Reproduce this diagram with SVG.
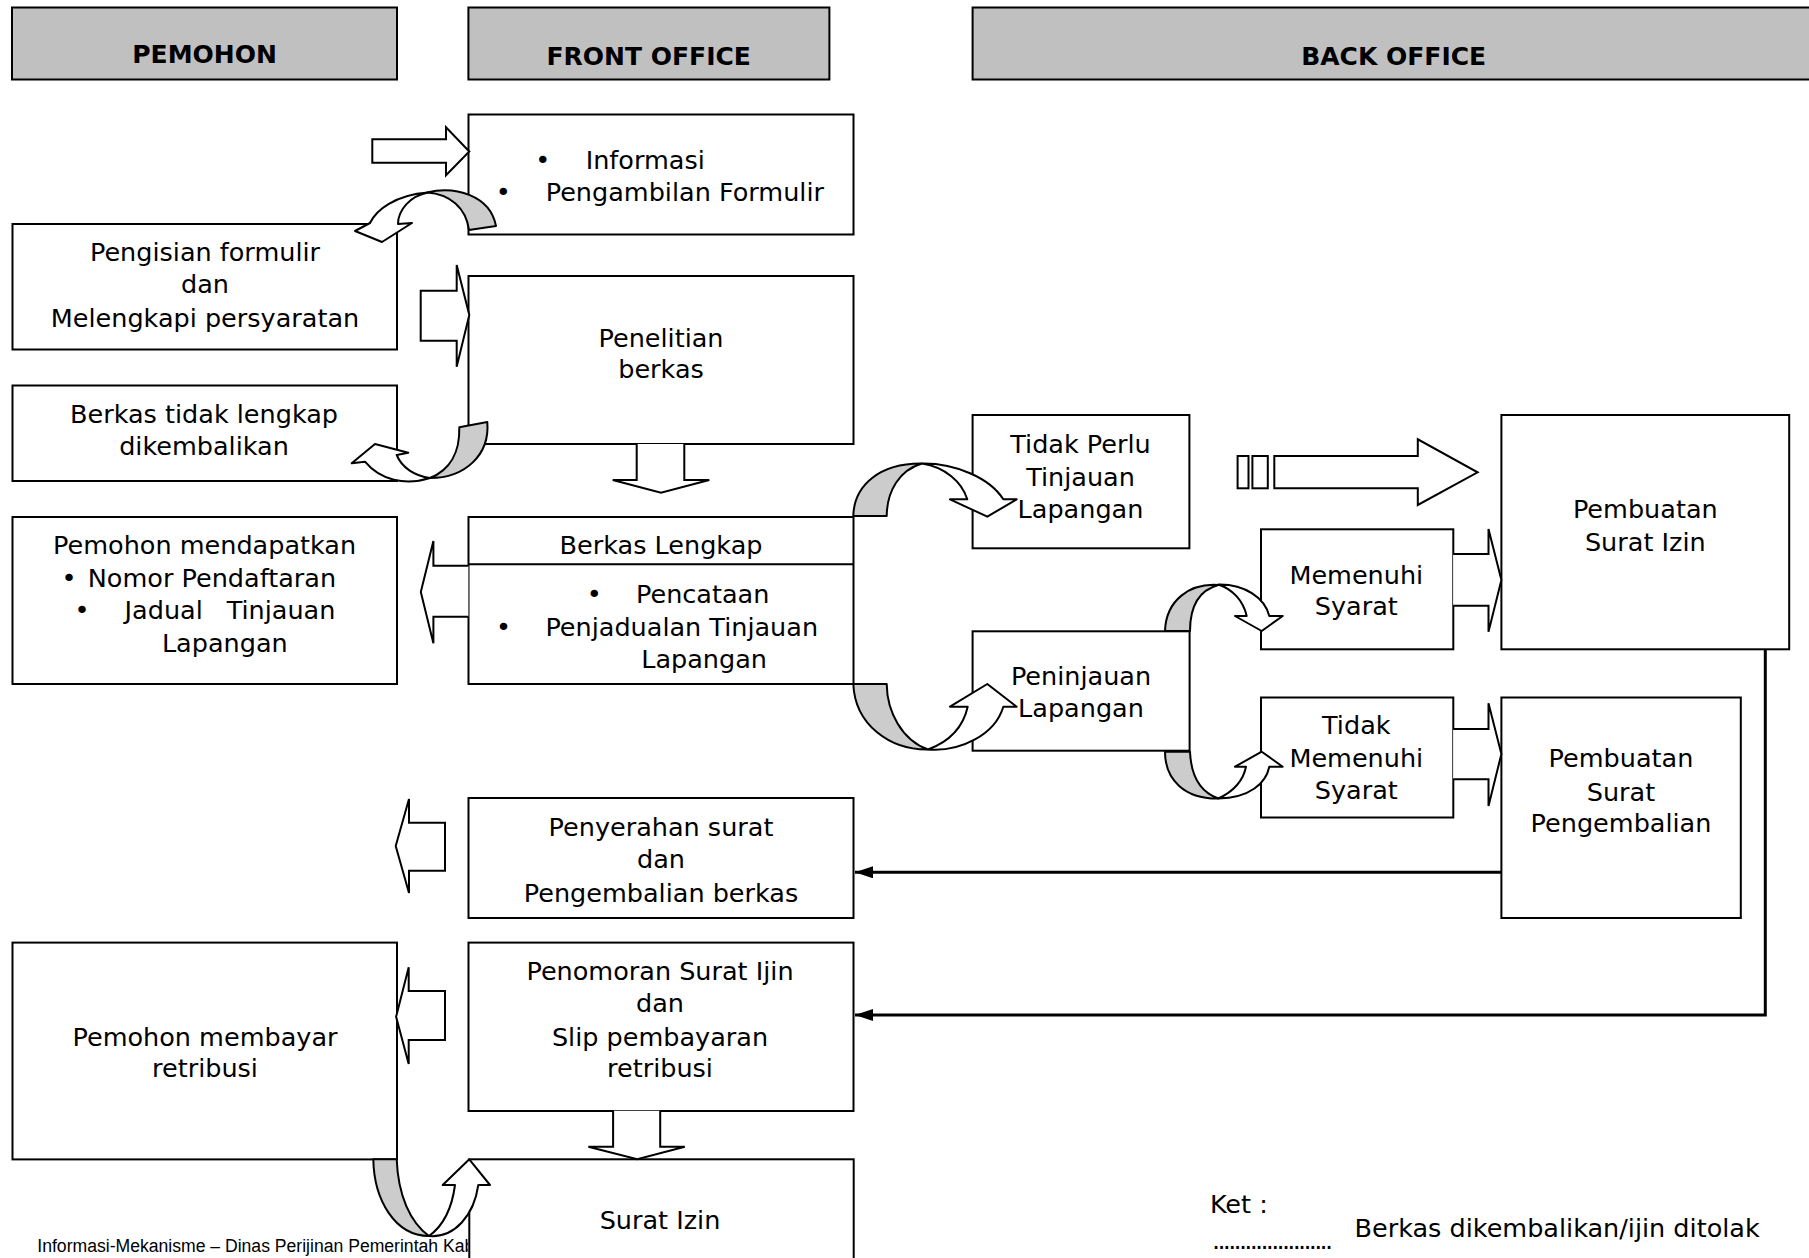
<svg xmlns="http://www.w3.org/2000/svg" width="1809" height="1258" viewBox="0 0 1809 1258">
<defs>
<style>
.hdr{fill:#c0c0c0;stroke:#000;stroke-width:2}
.box{fill:#fff;stroke:#000;stroke-width:2}
.ht{font-family:"DejaVu Sans",sans-serif;font-weight:bold;font-size:25px;fill:#000;text-anchor:middle}
.t{font-family:"DejaVu Sans",sans-serif;font-size:25.5px;fill:#000}
.c{text-anchor:middle}
.blk{fill:#fff;stroke:#000;stroke-width:2;stroke-linejoin:miter}
.gry{fill:#cccccc;stroke:#000;stroke-width:2;stroke-linejoin:round}
.wht{fill:#fff;stroke:#000;stroke-width:2;stroke-linejoin:round}
.ln{fill:none;stroke:#000;stroke-width:3}
.foot{font-family:"Liberation Sans",Arial,sans-serif;font-size:18px;fill:#000}
</style>
<marker id="ah" viewBox="0 0 10 10" refX="10" refY="5" markerWidth="6" markerHeight="4" orient="auto" preserveAspectRatio="none">
<path d="M0,0 L10,5 L0,10 Z" fill="#000"/>
</marker>
<clipPath id="footclip"><rect x="0" y="1150" width="468.3" height="120"/></clipPath>
</defs>
<rect width="1809" height="1258" fill="#fff"/>

<g id="hdr-pemohon"><rect class="hdr" x="12" y="7.5" width="385" height="72"/><text class="ht" x="204.6" y="63.3">PEMOHON</text></g>
<g id="hdr-front"><rect class="hdr" x="468.4" y="7.5" width="361" height="72"/><text class="ht" x="648.7" y="65">FRONT OFFICE</text></g>
<g id="hdr-back"><rect class="hdr" x="972.6" y="7.5" width="845" height="72"/><text class="ht" x="1393.7" y="65">BACK OFFICE</text></g>

<g id="informasi"><rect class="box" x="468.5" y="114.5" width="385" height="120"/>
<text class="t c" x="542.7" y="169.3">•</text><text class="t" x="585.7" y="169.3">Informasi</text>
<text class="t c" x="503.3" y="201">•</text><text class="t" x="545.7" y="201">Pengambilan Formulir</text></g>

<g id="pengisian"><rect class="box" x="12.5" y="224" width="384.5" height="125.5"/>
<text class="t c" x="205" y="261">Pengisian formulir</text><text class="t c" x="205" y="293.3">dan</text><text class="t c" x="205" y="326.7">Melengkapi persyaratan</text></g>

<g id="penelitian"><rect class="box" x="468.5" y="276" width="385" height="168"/>
<text class="t c" x="661" y="346.7">Penelitian</text><text class="t c" x="661" y="378.3">berkas</text></g>

<g id="tidak-lengkap"><rect class="box" x="12.5" y="385.5" width="384.5" height="95.5"/>
<text class="t c" x="204" y="422.7">Berkas tidak lengkap</text><text class="t c" x="204" y="455">dikembalikan</text></g>

<g id="berkas-lengkap"><rect class="box" x="468.5" y="517" width="385" height="167"/>
<line x1="468.5" y1="564.2" x2="853.5" y2="564.2" stroke="#000" stroke-width="2"/>
<text class="t c" x="661" y="554">Berkas Lengkap</text>
<text class="t c" x="594.2" y="603.3">•</text><text class="t" x="636" y="603.3">Pencataan</text>
<text class="t c" x="503.4" y="636">•</text><text class="t" x="545.4" y="636">Penjadualan Tinjauan</text>
<text class="t" x="641.2" y="668.3">Lapangan</text></g>

<g id="mendapatkan"><rect class="box" x="12.5" y="517" width="384.5" height="167"/>
<text class="t c" x="204.6" y="554">Pemohon mendapatkan</text>
<text class="t c" x="68.9" y="586.7">•</text><text class="t" x="87.8" y="586.7">Nomor Pendaftaran</text>
<text class="t c" x="82.1" y="619.3">•</text><text class="t" y="619.3"><tspan x="124.6">Jadual</tspan><tspan x="226.7">Tinjauan</tspan></text>
<text class="t" x="161.9" y="651.7">Lapangan</text></g>

<g id="tidak-perlu"><rect class="box" x="972.6" y="415" width="216.8" height="133.3"/>
<text class="t c" x="1080.5" y="452.7">Tidak Perlu</text><text class="t c" x="1080.5" y="486">Tinjauan</text><text class="t c" x="1080.5" y="518.3">Lapangan</text></g>

<g id="peninjauan"><rect class="box" x="972.6" y="631.3" width="217" height="119.4"/>
<text class="t c" x="1081" y="685">Peninjauan</text><text class="t c" x="1081" y="717.3">Lapangan</text></g>

<g id="memenuhi"><rect class="box" x="1261" y="529.3" width="192.3" height="120"/>
<text class="t c" x="1356.3" y="584">Memenuhi</text><text class="t c" x="1356.3" y="615">Syarat</text></g>

<g id="tidak-memenuhi"><rect class="box" x="1261" y="697.5" width="192.3" height="120"/>
<text class="t c" x="1356.3" y="734">Tidak</text><text class="t c" x="1356.3" y="767.3">Memenuhi</text><text class="t c" x="1356.3" y="799.3">Syarat</text></g>

<g id="pembuatan-izin"><rect class="box" x="1501.4" y="415" width="287.8" height="234.3"/>
<text class="t c" x="1645.3" y="518.3">Pembuatan</text><text class="t c" x="1645.3" y="551">Surat Izin</text></g>

<g id="pembuatan-pengembalian"><rect class="box" x="1501.4" y="697.5" width="239.4" height="220.5"/>
<text class="t c" x="1621" y="766.7">Pembuatan</text><text class="t c" x="1621" y="800.7">Surat</text><text class="t c" x="1621" y="832.3">Pengembalian</text></g>

<g id="penyerahan"><rect class="box" x="468.5" y="798" width="385" height="120"/>
<text class="t c" x="661" y="836">Penyerahan surat</text><text class="t c" x="661" y="868.3">dan</text><text class="t c" x="661" y="901.7">Pengembalian berkas</text></g>

<g id="penomoran"><rect class="box" x="468.5" y="942.6" width="385" height="168.4"/>
<text class="t c" x="660" y="980">Penomoran Surat Ijin</text><text class="t c" x="660" y="1012.3">dan</text><text class="t c" x="660" y="1045.7">Slip pembayaran</text><text class="t c" x="660" y="1077.3">retribusi</text></g>

<g id="membayar"><rect class="box" x="12.5" y="942.6" width="384.5" height="216.8"/>
<text class="t c" x="205" y="1046">Pemohon membayar</text><text class="t c" x="205" y="1077.3">retribusi</text></g>

<g id="surat-izin"><rect class="box" x="469.3" y="1159.3" width="384.4" height="120"/>
<text class="t c" x="660" y="1229">Surat Izin</text></g>

<g id="ket">
<text class="t" x="1209.9" y="1213.3">Ket :</text>
<text class="t" x="1212" y="1249.3" font-size="14" textLength="121" lengthAdjust="spacing">......................</text>
<text class="t" x="1354.5" y="1237.3">Berkas dikembalikan/ijin ditolak</text>
</g>

<g id="connectors">
<path class="blk" d="M372.3,139.3 L446,139.3 L446,127.3 L469.3,151.5 L446,175.3 L446,162.7 L372.3,162.7 Z"/>
<path class="blk" d="M420.7,290.7 L456.7,290.7 L456.7,265 L469.3,315 L456.7,366.7 L456.7,340.7 L420.7,340.7 Z"/>
<path class="blk" d="M636.7,444 L636.7,480 L612.7,480 L661,492.7 L709.3,480 L684.3,480 L684.3,444"/>
<path class="blk" d="M468.4,565.7 L433.4,565.7 L433.4,541 L420.8,592 L433.4,643.3 L433.4,616.7 L468.4,616.7"/>
<path class="blk" d="M445,822.7 L409,822.7 L409,799 L395.7,846 L409,893 L409,870.7 L445,870.7 Z"/>
<path class="blk" d="M445,991 L408.7,991 L408.7,967.3 L396.1,1016.7 L408.7,1064 L408.7,1040 L445,1040 Z"/>
<path class="blk" d="M613.1,1110.7 L613.1,1146.7 L588.4,1146.7 L637.2,1159.3 L684.8,1146.7 L660.2,1146.7 L660.2,1110.7"/>
<path class="blk" d="M1453.1,554 L1488.5,554 L1488.5,529 L1501.4,580 L1488.5,631.7 L1488.5,605.7 L1453.1,605.7"/>
<path class="blk" d="M1453.1,729 L1488.5,729 L1488.5,703.3 L1501.4,754 L1488.5,806 L1488.5,779.3 L1453.1,779.3"/>
<rect class="blk" x="1237.6" y="456" width="10.9" height="32.3"/>
<rect class="blk" x="1252.4" y="456" width="15.4" height="32.3"/>
<path class="blk" d="M1274.3,456 L1417.8,456 L1417.8,439.3 L1477.6,472.3 L1417.8,505 L1417.8,488.3 L1274.3,488.3 Z"/>

<path class="gry" d="M427,192.5 C455,186 490,195 496,226 L469,230 C466,208 450,194 427,192.5 Z"/>
<path class="wht" d="M398,224 L412,223 L382,242 L355,231 L370,223 C376,210 395,195 428,192.5 C410,196 398,210 398,224 Z"/>

<path class="gry" d="M459.3,427.3 L487.3,422 C490,455 465,478 430,478 C450,470 460,452 459.3,427.3 Z"/>
<path class="wht" d="M396.7,455 L408.3,452.7 L375,444 L351.7,463.3 L365,461.7 C380,480 405,486 430,478 C415,476 402,468 396.7,455 Z"/>

<path class="gry" d="M853.3,516 C854,485 880,463 922,463.5 C900,470 887,490 886.7,516 Z"/>
<path class="wht" d="M922,463.5 C955,463 990,478 1003.3,499.3 L1016.7,499.3 L987.3,516.7 L950,499.3 L967.3,499.3 C962,482 945,467 922,463.5 Z"/>

<path class="gry" d="M853.3,684 L886.7,684 C887,712 902,740 928,749.5 C890,750 855,725 853.3,684 Z"/>
<path class="wht" d="M928,749.5 C960,752 995,735 1003.3,706.7 L1016.7,706.7 L987.3,684 L950,706.7 L967.7,706.7 C963,728 948,742 928,749.5 Z"/>

<path class="gry" d="M1165,631 L1190,631 C1190,605 1200,590 1218.3,585 C1190,583 1166,600 1165,631 Z"/>
<path class="wht" d="M1218.3,584.5 C1245,584 1265,598 1269.3,616 L1282.7,616 L1261.7,631 L1235,616 L1246.7,616 C1243,600 1232,589 1218.3,584.5 Z"/>

<path class="gry" d="M1165,751.7 L1190,751.7 C1191,775 1200,792 1218.3,798.5 C1185,799 1165,780 1165,751.7 Z"/>
<path class="wht" d="M1218.3,798.5 C1250,798 1266,783 1269.3,766.7 L1282.7,766.7 L1261.7,751.7 L1235,766.7 L1246,766.7 C1243,782 1232,792 1218.3,798.5 Z"/>

<path class="gry" d="M373.3,1159.3 L396.7,1159.3 C398,1195 410,1222 429,1236 C395,1236 374,1200 373.3,1159.3 Z"/>
<path class="wht" d="M429,1236 C455,1238 474,1215 478.3,1185 L490,1185 L469.3,1159.3 L442.7,1185 L455,1185 C452,1208 443,1226 429,1236 Z"/>

<path class="ln" d="M1765.3,649.3 L1765.3,1015 L855,1015" marker-end="url(#ah)"/>
<path class="ln" d="M1501.4,872.3 L855,872.3" marker-end="url(#ah)"/>
</g>

<text class="foot" x="37.3" y="1251.5" textLength="437" lengthAdjust="spacingAndGlyphs" clip-path="url(#footclip)">Informasi-Mekanisme – Dinas Perijinan Pemerintah Kab</text>
</svg>
